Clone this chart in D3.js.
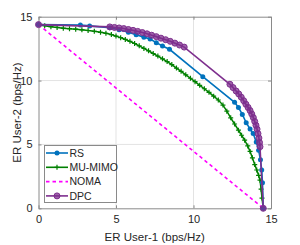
<!DOCTYPE html>
<html><head><meta charset="utf-8">
<script src="https://cdn.jsdelivr.net/npm/d3@7"></script>
<style>body{margin:0;background:#fff}svg{display:block}text{font-family:"Liberation Sans",Arial,sans-serif}</style>
</head><body>
<script>
const xTicks = [0, 5, 10, 15];
const yTicks = [0, 5, 10, 15];
const seriesNames = ["RS", "MU-MIMO", "NOMA", "DPC"];
const rsX = [0, 2.7, 3.3, 4.6, 5.2, 5.8, 6.3, 6.8, 7.2, 7.6, 8.0, 8.45, 10.6, 12.65, 12.9, 13.15, 13.4, 13.65, 13.85, 14.05, 14.2, 14.32, 14.4, 14.45, 14.5];
const rsY = [14.38, 14.35, 14.28, 14.13, 13.98, 13.78, 13.58, 13.4, 13.25, 12.97, 12.71, 12.45, 10.3, 8.3, 7.9, 7.35, 6.7, 6.2, 5.85, 5.2, 4.55, 3.8, 3.0, 2.0, 0];
const mmX = [0, 0.4, 0.8, 1.2, 1.6, 2.0, 2.4, 2.8, 3.2, 3.6, 4.0, 4.35, 4.7, 5.0, 5.3, 5.6, 5.9, 6.2, 6.5, 6.8, 7.1, 7.4, 7.7, 8.0, 8.3, 8.6, 8.9, 9.2, 9.5, 9.8, 10.1, 10.4, 10.7, 11.0, 11.3, 11.6, 11.9, 12.15, 12.4, 12.65, 12.9, 13.1, 13.3, 13.5, 13.65, 13.8, 13.95, 14.08, 14.2, 14.29, 14.36, 14.42, 14.5];
const mmY = [14.38, 14.3, 14.22, 14.16, 14.1, 14.06, 14.02, 13.97, 13.92, 13.86, 13.78, 13.7, 13.6, 13.48, 13.36, 13.22, 13.07, 12.9, 12.72, 12.52, 12.33, 12.12, 11.92, 11.7, 11.49, 11.25, 10.98, 10.72, 10.45, 10.18, 9.91, 9.63, 9.36, 9.08, 8.78, 8.48, 8.08, 7.6, 7.08, 6.6, 6.12, 5.72, 5.33, 4.88, 4.45, 3.95, 3.42, 3.0, 2.58, 2.2, 1.5, 0.8, 0];
const nomaX = [0, 14.5];
const nomaY = [14.38, 0];
const dpcX = [0, 4.6, 4.9, 5.2, 5.5, 5.8, 6.1, 6.4, 6.7, 7.0, 7.3, 7.6, 7.9, 8.2, 8.5, 8.8, 9.1, 9.4, 12.35, 12.55, 12.75, 12.92, 13.08, 13.24, 13.38, 13.52, 13.65, 13.76, 13.86, 13.95, 14.03, 14.1, 14.16, 14.22, 14.26, 14.29, 14.5];
const dpcY = [14.38, 14.2, 14.16, 14.12, 14.07, 14.0, 13.93, 13.85, 13.76, 13.66, 13.55, 13.44, 13.32, 13.2, 13.07, 12.93, 12.78, 12.62, 9.71, 9.45, 9.18, 8.95, 8.7, 8.42, 8.15, 7.9, 7.65, 7.38, 7.1, 6.8, 6.5, 6.2, 5.85, 5.5, 5.15, 4.82, 0];

const W = 300, H = 245;
const L = 38.5, R = 271, T = 16.7, B = 208.3;
const svg = d3.select("body").append("svg").attr("width", W).attr("height", H);
const x = d3.scaleLinear().domain([0, 15]).range([L, R]);
const y = d3.scaleLinear().domain([0, 15]).range([B, T]);

// grid
const g = svg.append("g");
g.selectAll(".gx").data(xTicks.slice(1, -1)).enter().append("line")
  .attr("x1", d => x(d)).attr("x2", d => x(d)).attr("y1", T).attr("y2", B)
  .attr("stroke", "#e3e3e3").attr("stroke-width", 1);
g.selectAll(".gy").data(yTicks.slice(1, -1)).enter().append("line")
  .attr("y1", d => y(d)).attr("y2", d => y(d)).attr("x1", L).attr("x2", R)
  .attr("stroke", "#e3e3e3").attr("stroke-width", 1);

// axes
const ax = svg.append("g").attr("transform", `translate(0,${B})`)
  .call(d3.axisBottom(x).tickValues(xTicks).tickSizeInner(-3).tickSizeOuter(0).tickPadding(7));
const ay = svg.append("g").attr("transform", `translate(${L},0)`)
  .call(d3.axisLeft(y).tickValues(yTicks).tickSizeInner(-3).tickSizeOuter(0).tickPadding(6));
const axT = svg.append("g").attr("transform", `translate(0,${T})`)
  .call(d3.axisTop(x).tickValues(xTicks).tickSizeInner(-3).tickSizeOuter(0).tickFormat(""));
const ayR = svg.append("g").attr("transform", `translate(${R},0)`)
  .call(d3.axisRight(y).tickValues(yTicks).tickSizeInner(-3).tickSizeOuter(0).tickFormat(""));
[ax, ay, axT, ayR].forEach(a => {
  a.select(".domain").attr("stroke", "#8a8a8a");
  a.selectAll(".tick line").attr("stroke", "#8a8a8a");
  a.selectAll("text").attr("fill", "#262626").style("font-size", "11px").style("font-family", '"Liberation Sans",Arial,sans-serif');
});

const line = d3.line().x(d => x(d[0])).y(d => y(d[1]));
const zip = (a, b) => a.map((v, i) => [v, b[i]]);
const colors = {RS: "#0072BD", MM: "#008000", NOMA: "#FF00FF", DPC: "#7E2F8E"};

// NOMA
svg.append("path").attr("d", line(zip(nomaX, nomaY))).attr("fill", "none")
  .attr("stroke", colors.NOMA).attr("stroke-width", 1.6).attr("stroke-dasharray", "3.5,3");

// MU-MIMO
const mm = zip(mmX, mmY);
svg.append("path").attr("d", line(mm)).attr("fill", "none").attr("stroke", colors.MM).attr("stroke-width", 1.5);
const plus = (sel, pts, c, s) => sel.selectAll(null).data(pts).enter().append("path")
  .attr("d", d => `M${x(d[0]) - s},${y(d[1])}h${2 * s}M${x(d[0])},${y(d[1]) - s}v${2 * s}`)
  .attr("stroke", c).attr("stroke-width", 1.2);
plus(svg, mm, colors.MM, 2.5);

// RS
const rs = zip(rsX, rsY);
svg.append("path").attr("d", line(rs)).attr("fill", "none").attr("stroke", colors.RS).attr("stroke-width", 1.6);
svg.selectAll(null).data(rs).enter().append("circle")
  .attr("cx", d => x(d[0])).attr("cy", d => y(d[1])).attr("r", 2.5).attr("fill", colors.RS);

// DPC
const dpc = zip(dpcX, dpcY);
svg.append("path").attr("d", line(dpc)).attr("fill", "none").attr("stroke", colors.DPC).attr("stroke-width", 1.6);
svg.selectAll(null).data(dpc).enter().append("circle")
  .attr("cx", d => x(d[0])).attr("cy", d => y(d[1])).attr("r", 3)
  .attr("fill", colors.DPC).attr("fill-opacity", 0.75).attr("stroke", colors.DPC).attr("stroke-width", 1);

// labels
svg.append("text").attr("x", (L + R) / 2).attr("y", 241).attr("text-anchor", "middle")
  .attr("fill", "#262626").style("font-size", "11.5px").text("ER User-1 (bps/Hz)");
svg.append("text").attr("transform", `translate(21,${(T + B) / 2}) rotate(-90)`).attr("text-anchor", "middle")
  .attr("fill", "#262626").style("font-size", "11.5px").text("ER User-2 (bps/Hz)");

// legend
const lg = svg.append("g");
lg.append("rect").attr("x", 44.5).attr("y", 145.5).attr("width", 72).attr("height", 57)
  .attr("fill", "#fff").attr("stroke", "#8a8a8a").attr("stroke-width", 1);
const ly = [153, 167.3, 181.6, 195.9];
const lc = [colors.RS, colors.MM, colors.NOMA, colors.DPC];
seriesNames.forEach((n, i) => {
  const yy = ly[i];
  const l = lg.append("line").attr("x1", 46).attr("x2", 68).attr("y1", yy).attr("y2", yy)
    .attr("stroke", lc[i]).attr("stroke-width", 1.6);
  if (i === 2) l.attr("stroke-dasharray", "3.5,3");
  if (i === 0) lg.append("circle").attr("cx", 57).attr("cy", yy).attr("r", 2.5).attr("fill", lc[i]);
  if (i === 1) lg.append("path").attr("d", `M54.5,${yy}h5M57,${yy - 2.5}v5`).attr("stroke", lc[i]).attr("stroke-width", 1.2);
  if (i === 3) lg.append("circle").attr("cx", 57).attr("cy", yy).attr("r", 3).attr("fill", lc[i]).attr("fill-opacity", 0.75).attr("stroke", lc[i]);
  lg.append("text").attr("x", 69.5).attr("y", yy + 3.6).attr("fill", "#262626").style("font-size", "10.5px").text(n);
});
</script>
</body></html>
